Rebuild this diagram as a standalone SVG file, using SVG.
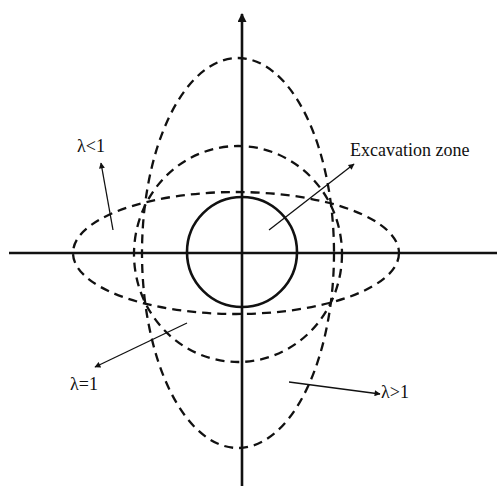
<svg xmlns="http://www.w3.org/2000/svg" width="498" height="486" viewBox="0 0 498 486">
<defs>
<marker id="ah" viewBox="0 0 10 10" refX="9" refY="5" markerWidth="8" markerHeight="6" markerUnits="userSpaceOnUse" orient="auto">
<path d="M0,0 L10,5 L0,10 z" fill="#111"/>
</marker>
<marker id="axh" viewBox="0 0 10 10" refX="9" refY="5" markerWidth="12" markerHeight="9" markerUnits="userSpaceOnUse" orient="auto">
<path d="M0,0 L10,5 L0,10 z" fill="#111"/>
</marker>
</defs>
<style>
.axis{stroke:#111;stroke-width:2.6;fill:none}
.dash{stroke:#111;stroke-width:2.3;fill:none;stroke-dasharray:9 6}
.solid{stroke:#111;stroke-width:2.6;fill:none}
.arr{stroke:#111;stroke-width:1.3;fill:none}
.lbl{font-family:"Liberation Serif","Times New Roman",serif;font-size:18px;fill:#111}
</style>
<rect width="498" height="486" fill="#fff"/>
<g id="axes">
<line class="axis" x1="9" y1="253" x2="497" y2="253"/>
<line class="axis" x1="242" y1="486" x2="242" y2="14" marker-end="url(#axh)"/>
</g>
<g id="ellipse-tall"><ellipse class="dash" cx="238" cy="253" rx="96" ry="195"/></g>
<g id="circle-dashed"><ellipse class="dash" cx="238" cy="254" rx="104" ry="108"/></g>
<g id="ellipse-flat"><ellipse class="dash" cx="236" cy="253" rx="163" ry="61"/></g>
<g id="excavation"><circle class="solid" cx="242" cy="252" r="55"/></g>
<g id="connectors">
<line class="arr" x1="113" y1="230" x2="101" y2="163" marker-end="url(#ah)"/>
<line class="arr" x1="269" y1="230" x2="354" y2="164" marker-end="url(#ah)"/>
<line class="arr" x1="187" y1="323" x2="95" y2="367" marker-end="url(#ah)"/>
<line class="arr" x1="289" y1="382" x2="380" y2="394" marker-end="url(#ah)"/>
</g>
<g id="labels">
<text class="lbl" x="77" y="152">λ&lt;1</text>
<text class="lbl" x="350" y="156">Excavation zone</text>
<text class="lbl" x="70" y="390">λ=1</text>
<text class="lbl" x="381" y="398">λ&gt;1</text>
</g>
</svg>
